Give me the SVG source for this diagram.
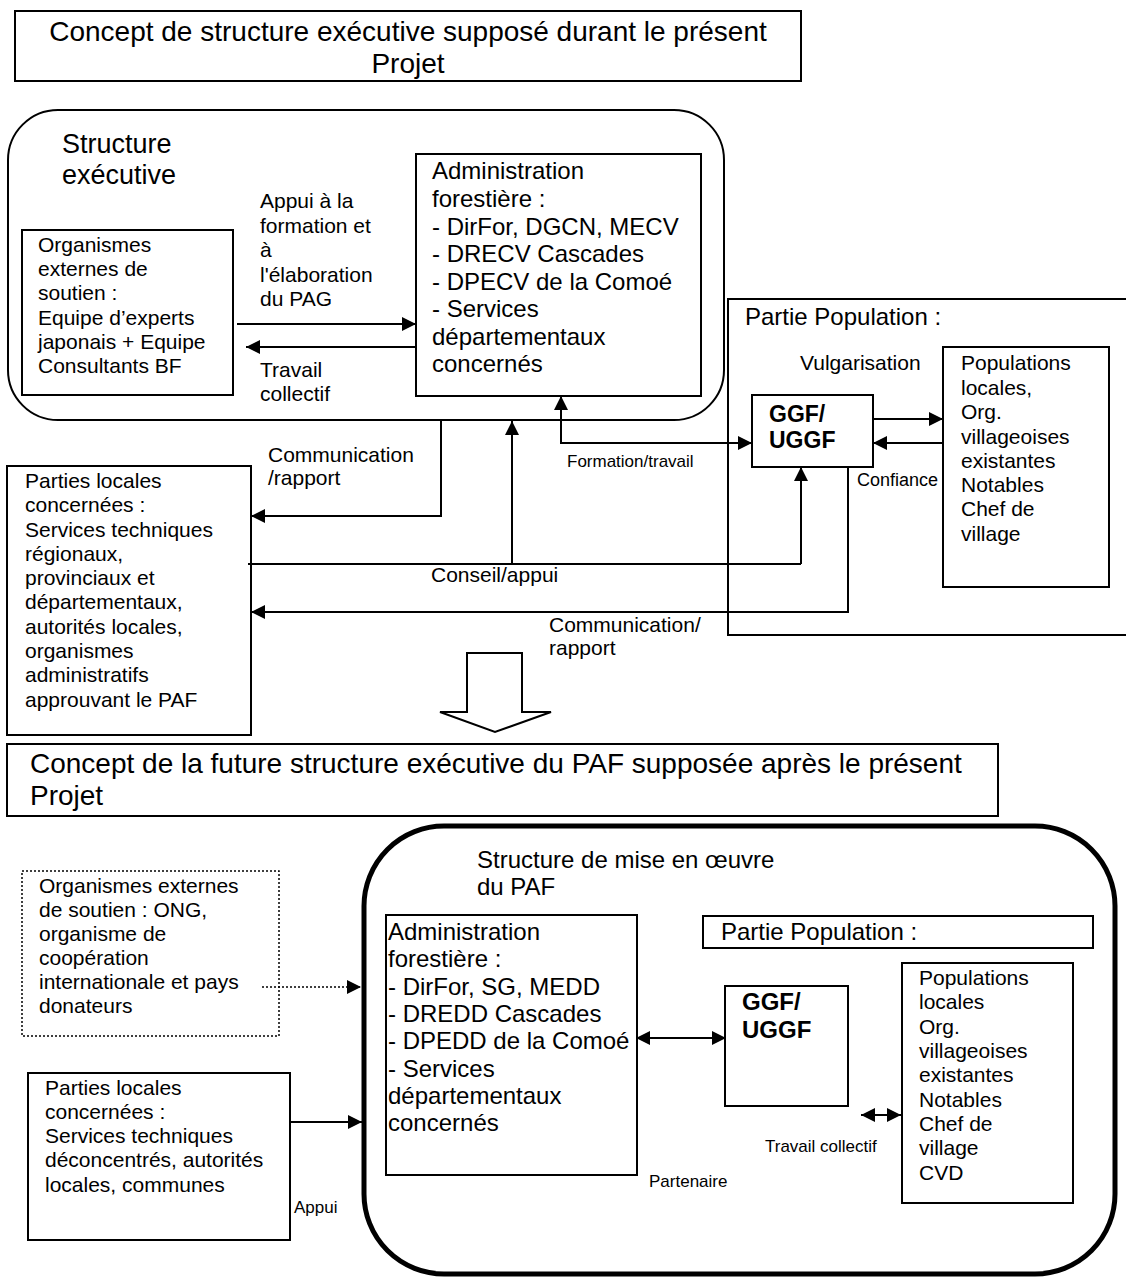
<svg xmlns="http://www.w3.org/2000/svg" width="1126" height="1279" viewBox="0 0 1126 1279">
<style>
text{font-family:"Liberation Sans",Arial,sans-serif;fill:#000}
.box{fill:#fff;stroke:#000;stroke-width:2}
.t28{font-size:28px}.t27{font-size:27px}.t24{font-size:24px}.t21{font-size:21px}.t18{font-size:18px}.t17{font-size:17px}
.b{font-weight:bold}
.ln{fill:none;stroke:#000;stroke-width:2}
.arr{marker-end:url(#ah)}
.dbl{marker-start:url(#ah);marker-end:url(#ah)}
</style>
<defs>
<marker id="ah" markerUnits="userSpaceOnUse" markerWidth="14" markerHeight="14" refX="14" refY="7" orient="auto-start-reverse">
<path d="M0,0 L14,7 L0,14 z" fill="#000"/>
</marker>
</defs>
<rect width="1126" height="1279" fill="#fff"/>

<g id="title1">
<rect class="box" x="15" y="11" width="786" height="70"/>
<text class="t28" x="408" y="41" text-anchor="middle">Concept de structure exécutive supposé durant le présent</text>
<text class="t28" x="408" y="73" text-anchor="middle">Projet</text>
</g>

<g id="structure-executive">
<rect class="box" x="8" y="110" width="716" height="310" rx="50" ry="50"/>
<text class="t27" x="62" y="153">Structure</text>
<text class="t27" x="62" y="184">exécutive</text>
</g>

<g id="partie-population-1">
<rect class="box" x="728" y="299" width="420" height="336"/>
<text class="t24" x="745" y="325">Partie Population :</text>
</g>

<g id="organismes-1">
<rect class="box" x="22" y="230" width="211" height="165"/>
<text class="t21" x="38" y="252">Organismes</text>
<text class="t21" x="38" y="276">externes de</text>
<text class="t21" x="38" y="300">soutien :</text>
<text class="t21" x="38" y="325">Equipe d’experts</text>
<text class="t21" x="38" y="349">japonais + Equipe</text>
<text class="t21" x="38" y="373">Consultants BF</text>
</g>

<g id="admin-1">
<rect class="box" x="416" y="154" width="285" height="242"/>
<text class="t24" x="432" y="179">Administration</text>
<text class="t24" x="432" y="207">forestière :</text>
<text class="t24" x="432" y="235">- DirFor, DGCN, MECV</text>
<text class="t24" x="432" y="262">- DRECV Cascades</text>
<text class="t24" x="432" y="290">- DPECV de la Comoé</text>
<text class="t24" x="432" y="317">- Services</text>
<text class="t24" x="432" y="345">départementaux</text>
<text class="t24" x="432" y="372">concernés</text>
</g>

<g id="ggf-1">
<rect class="box" x="752" y="395" width="121" height="72"/>
<text class="t21 b" x="769" y="422" style="font-size:23px">GGF/</text>
<text class="t21 b" x="769" y="448" style="font-size:23px">UGGF</text>
</g>

<g id="populations-1">
<rect class="box" x="943" y="347" width="166" height="240"/>
<text class="t21" x="961" y="370">Populations</text>
<text class="t21" x="961" y="395">locales,</text>
<text class="t21" x="961" y="419">Org.</text>
<text class="t21" x="961" y="444">villageoises</text>
<text class="t21" x="961" y="468">existantes</text>
<text class="t21" x="961" y="492">Notables</text>
<text class="t21" x="961" y="516">Chef de</text>
<text class="t21" x="961" y="541">village</text>
</g>

<g id="parties-locales-1">
<rect class="box" x="7" y="466" width="244" height="269"/>
<text class="t21" x="25" y="488">Parties locales</text>
<text class="t21" x="25" y="512">concernées :</text>
<text class="t21" x="25" y="537">Services techniques</text>
<text class="t21" x="25" y="561">régionaux,</text>
<text class="t21" x="25" y="585">provinciaux et</text>
<text class="t21" x="25" y="609">départementaux,</text>
<text class="t21" x="25" y="634">autorités locales,</text>
<text class="t21" x="25" y="658">organismes</text>
<text class="t21" x="25" y="682">administratifs</text>
<text class="t21" x="25" y="707">approuvant le PAF</text>
</g>

<g id="transition-arrow">
<polygon points="467,653 522,653 522,712 551,712 495,732 440,712 467,712" fill="#fff" stroke="#000" stroke-width="2"/>
</g>

<g id="title2">
<rect class="box" x="7" y="744" width="991" height="72"/>
<text class="t28" x="30" y="773">Concept de la future structure exécutive du PAF supposée après le présent</text>
<text class="t28" x="30" y="805">Projet</text>
</g>

<g id="mise-en-oeuvre">
<rect x="364" y="826" width="751" height="448" rx="80" ry="80" fill="#fff" stroke="#000" stroke-width="5"/>
<text class="t24" x="477" y="868">Structure de mise en œuvre</text>
<text class="t24" x="477" y="895">du PAF</text>
</g>

<g id="organismes-2">
<rect x="22" y="871" width="257" height="165" fill="#fff" stroke="#000" stroke-width="1.5" stroke-dasharray="2 2"/>
<text class="t21" x="39" y="893">Organismes externes</text>
<text class="t21" x="39" y="917">de soutien : ONG,</text>
<text class="t21" x="39" y="941">organisme de</text>
<text class="t21" x="39" y="965">coopération</text>
<text class="t21" x="39" y="989">internationale et pays</text>
<text class="t21" x="39" y="1013">donateurs</text>
</g>

<g id="admin-2">
<rect class="box" x="386" y="915" width="251" height="260"/>
<text class="t24" x="388" y="940">Administration</text>
<text class="t24" x="388" y="967">forestière :</text>
<text class="t24" x="388" y="995">- DirFor, SG, MEDD</text>
<text class="t24" x="388" y="1022">- DREDD Cascades</text>
<text class="t24" x="388" y="1049">- DPEDD de la Comoé</text>
<text class="t24" x="388" y="1077">- Services</text>
<text class="t24" x="388" y="1104">départementaux</text>
<text class="t24" x="388" y="1131">concernés</text>
</g>

<g id="partie-population-2">
<rect class="box" x="703" y="916" width="390" height="32"/>
<text class="t24" x="721" y="940">Partie Population :</text>
</g>

<g id="ggf-2">
<rect class="box" x="725" y="986" width="123" height="120"/>
<text class="t24 b" x="742" y="1010">GGF/</text>
<text class="t24 b" x="742" y="1038">UGGF</text>
</g>

<g id="populations-2">
<rect class="box" x="902" y="963" width="171" height="240"/>
<text class="t21" x="919" y="985">Populations</text>
<text class="t21" x="919" y="1009">locales</text>
<text class="t21" x="919" y="1034">Org.</text>
<text class="t21" x="919" y="1058">villageoises</text>
<text class="t21" x="919" y="1082">existantes</text>
<text class="t21" x="919" y="1107">Notables</text>
<text class="t21" x="919" y="1131">Chef de</text>
<text class="t21" x="919" y="1155">village</text>
<text class="t21" x="919" y="1180">CVD</text>
</g>

<g id="parties-locales-2">
<rect class="box" x="28" y="1073" width="262" height="167"/>
<text class="t21" x="45" y="1095">Parties locales</text>
<text class="t21" x="45" y="1119">concernées :</text>
<text class="t21" x="45" y="1143">Services techniques</text>
<text class="t21" x="45" y="1167">déconcentrés, autorités</text>
<text class="t21" x="45" y="1192">locales, communes</text>
</g>

<g id="connectors">
<line class="ln arr" x1="237" y1="324" x2="416" y2="324"/>
<line class="ln arr" x1="416" y1="347" x2="246" y2="347"/>
<text class="t21" x="260" y="208">Appui à la</text>
<text class="t21" x="260" y="233">formation et</text>
<text class="t21" x="260" y="257">à</text>
<text class="t21" x="260" y="282">l'élaboration</text>
<text class="t21" x="260" y="306">du PAG</text>
<text class="t21" x="260" y="377">Travail</text>
<text class="t21" x="260" y="401">collectif</text>

<line class="ln arr" x1="873" y1="419" x2="943" y2="419"/>
<line class="ln arr" x1="943" y1="443" x2="873" y2="443"/>
<text class="t21" x="800" y="370">Vulgarisation</text>
<text class="t18" x="857" y="486">Confiance</text>

<polyline class="ln dbl" points="561,396 561,443 752,443"/>
<text class="t17" x="567" y="467">Formation/travail</text>

<polyline class="ln arr" points="441,420 441,516 251,516"/>
<text class="t21" x="268" y="462">Communication</text>
<text class="t21" x="268" y="485">/rapport</text>

<line class="ln" x1="248" y1="564" x2="801" y2="564"/>
<line class="ln arr" x1="512" y1="564" x2="512" y2="421"/>
<line class="ln arr" x1="801" y1="564" x2="801" y2="467"/>
<text class="t21" x="431" y="582">Conseil/appui</text>

<polyline class="ln arr" points="848,467 848,612 251,612"/>
<text class="t21" x="549" y="632">Communication/</text>
<text class="t21" x="549" y="655">rapport</text>

<line x1="262" y1="987" x2="361" y2="987" stroke="#000" stroke-width="1.5" stroke-dasharray="2 2" marker-end="url(#ah)"/>

<line class="ln dbl" x1="636" y1="1038" x2="726" y2="1038"/>
<line class="ln dbl" x1="861" y1="1115" x2="901" y2="1115"/>
<text class="t17" x="765" y="1152">Travail collectif</text>
<text class="t17" x="649" y="1187">Partenaire</text>

<line class="ln arr" x1="290" y1="1122" x2="362" y2="1122"/>
<text class="t17" x="294" y="1213">Appui</text>
</g>
</svg>
